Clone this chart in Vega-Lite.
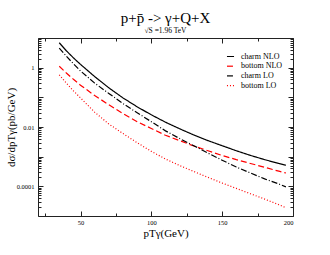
{
  "$schema": "https://vega.github.io/schema/vega-lite/v6.json",
  "width": 255,
  "height": 178,
  "autosize": {"type": "none"},
  "padding": {"left": 38, "top": 38, "right": 37, "bottom": 39},
  "background": "white",
  "title": {
    "text": "p+p̄ -> γ+Q+X",
    "subtitle": "√S =1.96 TeV",
    "font": "Liberation Serif",
    "fontSize": 15,
    "fontWeight": "normal",
    "color": "#000",
    "subtitleFont": "Liberation Serif",
    "subtitleFontSize": 7.5,
    "subtitleColor": "#000",
    "subtitlePadding": 1,
    "offset": 3,
    "anchor": "middle"
  },
  "config": {
    "view": {"stroke": "#222", "strokeWidth": 1},
    "axis": {"labelFont": "Liberation Serif", "titleFont": "Liberation Serif", "labelColor": "#000", "titleColor": "#000", "tickColor": "#222", "domainColor": "#222", "grid": false, "titleFontWeight": "normal"},
    "legend": {"labelFont": "Liberation Serif", "labelFontSize": 8, "labelColor": "#000"}
  },
  "data": {"values": [
    {"series": "charm NLO", "pt": 35, "ds": 6.92},
    {"series": "charm NLO", "pt": 40, "ds": 3.72},
    {"series": "charm NLO", "pt": 45, "ds": 2.14},
    {"series": "charm NLO", "pt": 50, "ds": 1.29},
    {"series": "charm NLO", "pt": 60, "ds": 0.501},
    {"series": "charm NLO", "pt": 70, "ds": 0.209},
    {"series": "charm NLO", "pt": 80, "ds": 0.0955},
    {"series": "charm NLO", "pt": 90, "ds": 0.0479},
    {"series": "charm NLO", "pt": 100, "ds": 0.0257},
    {"series": "charm NLO", "pt": 110, "ds": 0.0145},
    {"series": "charm NLO", "pt": 120, "ds": 0.00871},
    {"series": "charm NLO", "pt": 130, "ds": 0.00537},
    {"series": "charm NLO", "pt": 140, "ds": 0.00347},
    {"series": "charm NLO", "pt": 150, "ds": 0.00234},
    {"series": "charm NLO", "pt": 160, "ds": 0.00158},
    {"series": "charm NLO", "pt": 170, "ds": 0.0011},
    {"series": "charm NLO", "pt": 180, "ds": 0.000794},
    {"series": "charm NLO", "pt": 190, "ds": 0.000589},
    {"series": "charm NLO", "pt": 195, "ds": 0.000513},
    {"series": "bottom NLO", "pt": 35, "ds": 1.12},
    {"series": "bottom NLO", "pt": 40, "ds": 0.661},
    {"series": "bottom NLO", "pt": 45, "ds": 0.407},
    {"series": "bottom NLO", "pt": 50, "ds": 0.257},
    {"series": "bottom NLO", "pt": 60, "ds": 0.115},
    {"series": "bottom NLO", "pt": 70, "ds": 0.0562},
    {"series": "bottom NLO", "pt": 80, "ds": 0.0282},
    {"series": "bottom NLO", "pt": 90, "ds": 0.0151},
    {"series": "bottom NLO", "pt": 100, "ds": 0.00891},
    {"series": "bottom NLO", "pt": 110, "ds": 0.00525},
    {"series": "bottom NLO", "pt": 120, "ds": 0.00347},
    {"series": "bottom NLO", "pt": 130, "ds": 0.00229},
    {"series": "bottom NLO", "pt": 140, "ds": 0.00158},
    {"series": "bottom NLO", "pt": 150, "ds": 0.0011},
    {"series": "bottom NLO", "pt": 160, "ds": 0.000794},
    {"series": "bottom NLO", "pt": 170, "ds": 0.000589},
    {"series": "bottom NLO", "pt": 180, "ds": 0.000437},
    {"series": "bottom NLO", "pt": 190, "ds": 0.000324},
    {"series": "bottom NLO", "pt": 195, "ds": 0.000282},
    {"series": "charm LO", "pt": 35, "ds": 4.57},
    {"series": "charm LO", "pt": 40, "ds": 2.45},
    {"series": "charm LO", "pt": 45, "ds": 1.35},
    {"series": "charm LO", "pt": 50, "ds": 0.776},
    {"series": "charm LO", "pt": 60, "ds": 0.302},
    {"series": "charm LO", "pt": 70, "ds": 0.135},
    {"series": "charm LO", "pt": 80, "ds": 0.0617},
    {"series": "charm LO", "pt": 90, "ds": 0.0302},
    {"series": "charm LO", "pt": 100, "ds": 0.0151},
    {"series": "charm LO", "pt": 110, "ds": 0.00741},
    {"series": "charm LO", "pt": 120, "ds": 0.00407},
    {"series": "charm LO", "pt": 130, "ds": 0.00234},
    {"series": "charm LO", "pt": 140, "ds": 0.00132},
    {"series": "charm LO", "pt": 150, "ds": 0.000759},
    {"series": "charm LO", "pt": 160, "ds": 0.000447},
    {"series": "charm LO", "pt": 170, "ds": 0.000282},
    {"series": "charm LO", "pt": 180, "ds": 0.000178},
    {"series": "charm LO", "pt": 190, "ds": 0.00012},
    {"series": "charm LO", "pt": 195, "ds": 0.0000955},
    {"series": "bottom LO", "pt": 35, "ds": 0.575},
    {"series": "bottom LO", "pt": 40, "ds": 0.302},
    {"series": "bottom LO", "pt": 45, "ds": 0.166},
    {"series": "bottom LO", "pt": 50, "ds": 0.0955},
    {"series": "bottom LO", "pt": 60, "ds": 0.0316},
    {"series": "bottom LO", "pt": 70, "ds": 0.0126},
    {"series": "bottom LO", "pt": 80, "ds": 0.00603},
    {"series": "bottom LO", "pt": 90, "ds": 0.00295},
    {"series": "bottom LO", "pt": 100, "ds": 0.00151},
    {"series": "bottom LO", "pt": 110, "ds": 0.000832},
    {"series": "bottom LO", "pt": 120, "ds": 0.000501},
    {"series": "bottom LO", "pt": 130, "ds": 0.000316},
    {"series": "bottom LO", "pt": 140, "ds": 0.0002},
    {"series": "bottom LO", "pt": 150, "ds": 0.000129},
    {"series": "bottom LO", "pt": 160, "ds": 0.0000851},
    {"series": "bottom LO", "pt": 170, "ds": 0.0000562},
    {"series": "bottom LO", "pt": 180, "ds": 0.0000372},
    {"series": "bottom LO", "pt": 190, "ds": 0.000024},
    {"series": "bottom LO", "pt": 195, "ds": 0.0000191}
  ]},
  "resolve": {"axis": {"x": "independent", "y": "independent"}},
  "layer": [
    {
      "mark": {"type": "line", "strokeWidth": 1.2, "clip": true},
      "encoding": {
        "x": {"field": "pt", "type": "quantitative",
          "scale": {"domain": [20, 200], "nice": false, "zero": false},
          "axis": {"orient": "bottom", "values": [50, 100, 150, 200], "ticks": false, "domain": false, "labelFontSize": 6.5, "labelPadding": 3, "title": "pTγ(GeV)", "titleFontSize": 11, "titlePadding": 2}},
        "y": {"field": "ds", "type": "quantitative",
          "scale": {"type": "log", "domain": [0.00001, 10], "nice": false},
          "axis": {"orient": "left", "values": [0.0001, 0.01, 1], "ticks": false, "domain": false, "labelFontSize": 6.5, "labelPadding": 4,
            "labelExpr": "datum.value > 0.5 ? '1' : (datum.value > 0.005 ? '0.01' : '0.0001')",
            "title": "dσ/dpTγ(pb/GeV)", "titleFontSize": 11, "titlePadding": 0}},
        "color": {"field": "series", "type": "nominal",
          "scale": {"domain": ["charm NLO", "bottom NLO", "charm LO", "bottom LO"], "range": ["#000000", "#ff0000", "#000000", "#ff0000"]},
          "legend": {"orient": "none", "legendX": 188, "legendY": 14, "title": null, "symbolType": "stroke", "symbolSize": 50, "symbolStrokeWidth": 1.2, "rowPadding": 0.7, "labelOffset": 6, "padding": 0}},
        "strokeDash": {"field": "series", "type": "nominal",
          "scale": {"domain": ["charm NLO", "bottom NLO", "charm LO", "bottom LO"], "range": [[1, 0], [6, 3], [6, 2, 1, 2], [1, 2]]},
          "legend": {"orient": "none", "legendX": 188, "legendY": 14, "title": null, "symbolType": "stroke", "symbolSize": 50, "symbolStrokeWidth": 1.2, "rowPadding": 0.7, "labelOffset": 6, "padding": 0}}
      }
    },
    {
      "mark": {"type": "point", "opacity": 0},
      "encoding": {
        "x": {"field": "pt", "type": "quantitative",
          "axis": {"orient": "bottom", "values": [50, 100, 150, 200], "labels": false, "domain": false, "tickSize": -5, "title": null}},
        "y": {"field": "ds", "type": "quantitative",
          "axis": {"orient": "left", "values": [0.00001, 0.0001, 0.001, 0.01, 0.1, 1, 10], "labels": false, "domain": false, "tickSize": -5, "title": null}}
      }
    },
    {
      "mark": {"type": "point", "opacity": 0},
      "encoding": {
        "x": {"field": "pt", "type": "quantitative",
          "axis": {"orient": "bottom", "values": [25, 75, 125, 175], "labels": false, "domain": false, "tickSize": -3, "title": null}},
        "y": {"field": "ds", "type": "quantitative",
          "axis": {"orient": "left", "values": [0.00002, 0.00003, 0.00004, 0.00005, 0.00006, 0.00007, 0.00008, 0.00009, 0.0002, 0.0003, 0.0004, 0.0005, 0.0006, 0.0007, 0.0008, 0.0009, 0.002, 0.003, 0.004, 0.005, 0.006, 0.007, 0.008, 0.009, 0.02, 0.03, 0.04, 0.05, 0.06, 0.07, 0.08, 0.09, 0.2, 0.3, 0.4, 0.5, 0.6, 0.7, 0.8, 0.9, 2, 3, 4, 5, 6, 7, 8, 9], "labels": false, "domain": false, "tickSize": -3, "title": null}}
      }
    },
    {
      "mark": {"type": "point", "opacity": 0},
      "encoding": {
        "x": {"field": "pt", "type": "quantitative",
          "axis": {"orient": "top", "values": [50, 100, 150, 200], "labels": false, "domain": false, "tickSize": -5, "title": null}},
        "y": {"field": "ds", "type": "quantitative",
          "axis": {"orient": "right", "values": [0.00001, 0.0001, 0.001, 0.01, 0.1, 1, 10], "labels": false, "domain": false, "tickSize": -5, "title": null}}
      }
    },
    {
      "mark": {"type": "point", "opacity": 0},
      "encoding": {
        "x": {"field": "pt", "type": "quantitative",
          "axis": {"orient": "top", "values": [25, 75, 125, 175], "labels": false, "domain": false, "tickSize": -3, "title": null}},
        "y": {"field": "ds", "type": "quantitative",
          "axis": {"orient": "right", "values": [0.00002, 0.00003, 0.00004, 0.00005, 0.00006, 0.00007, 0.00008, 0.00009, 0.0002, 0.0003, 0.0004, 0.0005, 0.0006, 0.0007, 0.0008, 0.0009, 0.002, 0.003, 0.004, 0.005, 0.006, 0.007, 0.008, 0.009, 0.02, 0.03, 0.04, 0.05, 0.06, 0.07, 0.08, 0.09, 0.2, 0.3, 0.4, 0.5, 0.6, 0.7, 0.8, 0.9, 2, 3, 4, 5, 6, 7, 8, 9], "labels": false, "domain": false, "tickSize": -3, "title": null}}
      }
    }
  ]
}
